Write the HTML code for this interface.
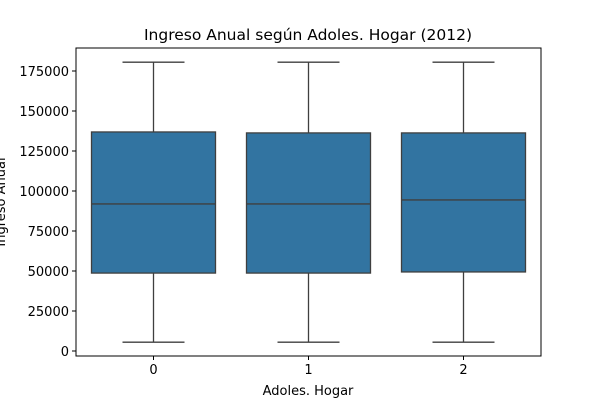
<!DOCTYPE html>
<html><head><meta charset="utf-8"><style>
body{margin:0;background:#fff;}
text{font-family:"DejaVu Sans","Liberation Sans",sans-serif;}
</style></head><body>
<svg id="chart" width="600" height="400" xmlns="http://www.w3.org/2000/svg"></svg>
<script>
const categories = ["0","1","2"];
const whiskerLow = [5500, 5500, 5500];
const q1Values = [48700, 48700, 49400];
const medianValues = [91900, 91900, 94400];
const q3Values = [136900, 136300, 136300];
const whiskerHigh = [180500, 180500, 180500];
const yTicks = [0,25000,50000,75000,100000,125000,150000,175000];

const svg = document.getElementById('chart');
const NS = "http://www.w3.org/2000/svg";
const L=76,R=541,T=48,B=356;
const y = v => 351 - v*(280/175000);
const x = i => L + (i+0.5)*(R-L)/categories.length;
const bw = 0.8*(R-L)/categories.length;
function mk(tag, attrs, name, txt){
  const e=document.createElementNS(NS,tag);
  for(const k in attrs) e.setAttribute(k,attrs[k]);
  
  
  if(txt!==undefined) e.textContent=txt;
  svg.appendChild(e); return e;
}
mk('text',{x:308,y:40,'text-anchor':'middle','font-size':15.5,fill:'#000'},'chart-title','Ingreso Anual según Adoles. Hogar (2012)');
categories.forEach((c,i)=>{
  const cx=x(i), col='#3f3f3f';
  mk('line',{x1:cx,x2:cx,y1:y(whiskerLow[i]),y2:y(q1Values[i]),stroke:col,'stroke-width':1.3},'lower-whisker');
  mk('line',{x1:cx,x2:cx,y1:y(q3Values[i]),y2:y(whiskerHigh[i]),stroke:col,'stroke-width':1.3},'upper-whisker');
  mk('line',{x1:cx-bw/4,x2:cx+bw/4,y1:y(whiskerLow[i]),y2:y(whiskerLow[i]),stroke:col,'stroke-width':1.3},'lower-cap');
  mk('line',{x1:cx-bw/4,x2:cx+bw/4,y1:y(whiskerHigh[i]),y2:y(whiskerHigh[i]),stroke:col,'stroke-width':1.3},'upper-cap');
  mk('rect',{x:cx-bw/2,y:y(q3Values[i]),width:bw,height:y(q1Values[i])-y(q3Values[i]),fill:'#3274a1',stroke:col,'stroke-width':1.3},'box-'+c);
  mk('line',{x1:cx-bw/2,x2:cx+bw/2,y1:y(medianValues[i]),y2:y(medianValues[i]),stroke:col,'stroke-width':1.3},'median-'+c);
  mk('line',{x1:cx,x2:cx,y1:B,y2:B+4,stroke:'#000'},'x-tick');
  mk('text',{x:cx,y:B+18,'text-anchor':'middle','font-size':13,fill:'#000'},'x-tick-label',c);
});
yTicks.forEach(t=>{
  mk('line',{x1:L-4,x2:L,y1:y(t),y2:y(t),stroke:'#000'},'y-tick');
  mk('text',{x:L-7,y:y(t)+5,'text-anchor':'end','font-size':13,fill:'#000'},'y-tick-label',String(t));
});
mk('rect',{x:L,y:T,width:R-L,height:B-T,fill:'none',stroke:'#000','stroke-width':1},'plot-frame');
mk('text',{x:308,y:395,'text-anchor':'middle','font-size':13,fill:'#000'},'x-axis-title','Adoles. Hogar');
mk('text',{x:0,y:0,'text-anchor':'middle','font-size':13,fill:'#000',transform:'translate(5,202) rotate(-90)'},'y-axis-title','Ingreso Anual');
</script>
</body></html>
